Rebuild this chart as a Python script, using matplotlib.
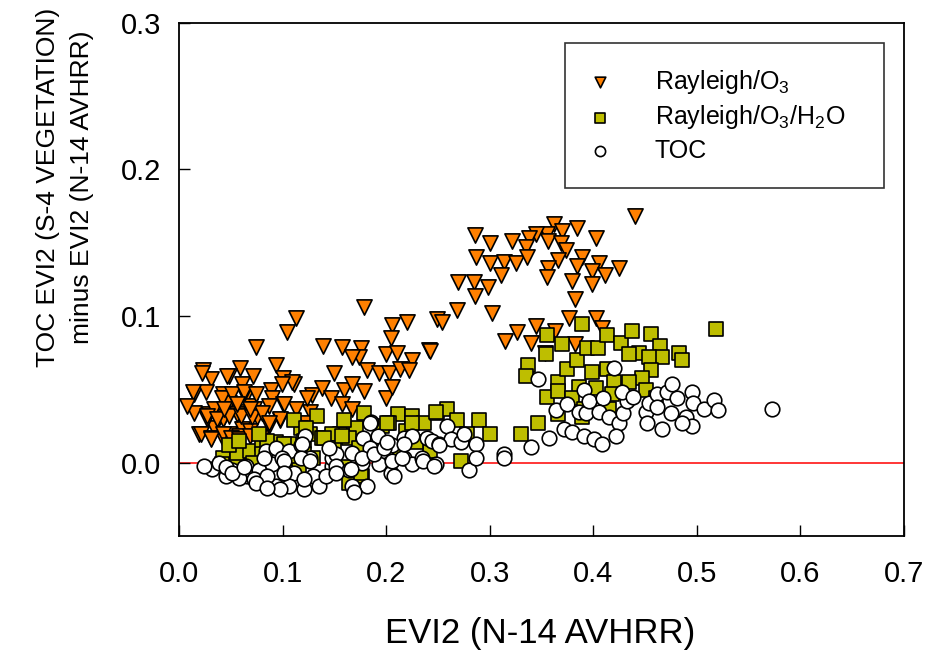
import matplotlib
matplotlib.use("Agg")
import matplotlib.pyplot as plt

plt.rcParams['font.family'] = ['Liberation Sans', 'DejaVu Sans']
plt.rcParams['mathtext.default'] = 'regular'

# Rayleigh/O3 corrected minus AVHRR
ray_x = [0.179, 0.113, 0.104, 0.206, 0.220, 0.249, 0.074, 0.139, 0.157, 0.176,
         0.174, 0.167, 0.241, 0.205, 0.200, 0.210, 0.225, 0.023, 0.059, 0.094,
         0.031, 0.048, 0.071, 0.100, 0.111, 0.150, 0.181, 0.193, 0.203, 0.213,
         0.222, 0.014, 0.026, 0.042, 0.061, 0.066, 0.089, 0.090, 0.128, 0.138,
         0.147, 0.159, 0.167, 0.179, 0.200, 0.206, 0.100, 0.113, 0.126, 0.157,
         0.167, 0.014, 0.029, 0.043, 0.056, 0.068, 0.075, 0.087, 0.097, 0.019,
         0.034, 0.048, 0.061, 0.077, 0.123, 0.022, 0.013, 0.042, 0.034, 0.048,
         0.063, 0.027, 0.042, 0.056, 0.072, 0.087, 0.097, 0.021, 0.031, 0.043,
         0.058, 0.068, 0.079, 0.008,
         0.046, 0.041, 0.051, 0.063, 0.074, 0.101, 0.109, 0.099, 0.027, 0.037,
         0.048, 0.060, 0.070, 0.080, 0.087, 0.031, 0.042, 0.050, 0.058, 0.068,
         0.056, 0.043, 0.068, 0.124,
         0.440, 0.362, 0.384, 0.370, 0.355, 0.345, 0.338, 0.286, 0.300, 0.322,
         0.335, 0.356, 0.369, 0.374, 0.403, 0.287, 0.300, 0.314, 0.325, 0.336,
         0.366, 0.389, 0.406, 0.425, 0.311, 0.356, 0.355, 0.384, 0.399, 0.411,
         0.399, 0.269, 0.285, 0.298, 0.286, 0.379, 0.382, 0.268, 0.302, 0.254,
         0.242, 0.326, 0.315, 0.340, 0.345, 0.363, 0.377, 0.403, 0.408, 0.382,
         0.353]
ray_y = [0.106, 0.099, 0.089, 0.094, 0.096, 0.098, 0.079, 0.080, 0.079, 0.078,
         0.072, 0.072, 0.077, 0.085, 0.074, 0.075, 0.070, 0.063, 0.065, 0.067,
         0.057, 0.059, 0.059, 0.058, 0.054, 0.061, 0.063, 0.061, 0.061, 0.064,
         0.063, 0.047, 0.048, 0.047, 0.054, 0.047, 0.050, 0.044, 0.046, 0.051,
         0.044, 0.050, 0.054, 0.049, 0.044, 0.052, 0.040, 0.037, 0.035, 0.040,
         0.037, 0.034, 0.033, 0.031, 0.035, 0.039, 0.031, 0.025, 0.029, 0.020,
         0.024, 0.020, 0.023, 0.018, 0.027, 0.061, 0.048, 0.044, 0.037, 0.041,
         0.047, 0.030, 0.030, 0.033, 0.037, 0.039, 0.030, 0.020, 0.017, 0.015,
         0.018, 0.022, 0.017, 0.039,
         0.059, 0.044, 0.047, 0.048, 0.047, 0.040, 0.055, 0.054, 0.032, 0.030,
         0.032, 0.032, 0.031, 0.034, 0.027, 0.016, 0.020, 0.017, 0.016, 0.018,
         0.040, 0.037, 0.037, 0.044,
         0.168, 0.163, 0.160, 0.158, 0.156, 0.156, 0.153, 0.155, 0.150, 0.151,
         0.147, 0.151, 0.150, 0.145, 0.153, 0.140, 0.136, 0.137, 0.136, 0.140,
         0.138, 0.140, 0.136, 0.133, 0.128, 0.133, 0.127, 0.134, 0.131, 0.128,
         0.122, 0.123, 0.123, 0.120, 0.114, 0.124, 0.112, 0.104, 0.102, 0.096,
         0.076, 0.089, 0.083, 0.082, 0.093, 0.090, 0.099, 0.099, 0.092, 0.081,
         0.075]

# Rayleigh/O3/H2O corrected minus AVHRR
wv_x = [0.519, 0.389, 0.355, 0.370, 0.354, 0.337, 0.335, 0.355, 0.366, 0.366,
        0.375, 0.384, 0.394, 0.405, 0.413, 0.427, 0.437, 0.456, 0.464, 0.466,
        0.483, 0.486, 0.444, 0.435, 0.454, 0.456, 0.447, 0.435, 0.399, 0.413,
        0.420, 0.403, 0.386, 0.379, 0.391, 0.389, 0.415, 0.366, 0.347, 0.330,
        0.451, 0.461, 0.418,
        0.179, 0.211, 0.203, 0.196, 0.225, 0.237, 0.249, 0.259, 0.268, 0.290,
        0.300, 0.278, 0.272, 0.219, 0.155, 0.171, 0.164, 0.174, 0.159, 0.164,
        0.177, 0.242, 0.229,
        0.042, 0.056, 0.068, 0.080, 0.094, 0.106, 0.118, 0.126, 0.138, 0.148,
        0.150, 0.080, 0.106, 0.129, 0.071, 0.055, 0.041, 0.116, 0.048, 0.085,
        0.133, 0.159, 0.111, 0.077, 0.058,
        0.101, 0.121, 0.248, 0.225, 0.201, 0.157, 0.140, 0.176, 0.193, 0.213,
        0.123, 0.121]
wv_y = [0.091, 0.095, 0.087, 0.081, 0.074, 0.067, 0.059, 0.045, 0.055, 0.049,
        0.064, 0.070, 0.078, 0.078, 0.087, 0.082, 0.090, 0.088, 0.080, 0.072,
        0.075, 0.070, 0.075, 0.074, 0.072, 0.063, 0.058, 0.055, 0.062, 0.064,
        0.055, 0.051, 0.052, 0.044, 0.037, 0.031, 0.037, 0.033, 0.027, 0.020,
        0.050, 0.044, 0.047,
        0.034, 0.033, 0.027, 0.025, 0.032, 0.027, 0.034, 0.037, 0.029, 0.029,
        0.020, 0.020, 0.001, 0.022, 0.020, 0.024, 0.017, 0.010, -0.003, -0.014,
        -0.009, 0.008, 0.014,
        0.003, 0.006, 0.008, 0.013, 0.014, 0.013, 0.024, 0.020, 0.017, 0.020,
        0.010, 0.006, 0.003, 0.003, 0.000, -0.003, -0.001, -0.005, 0.012, 0.015,
        0.032, 0.029, 0.029, 0.020, 0.015,
        0.013, 0.015, 0.035, 0.027, 0.027, 0.018, 0.017, -0.007, 0.010, 0.010,
        0.024, 0.006]

# TOC minus AVHRR
toc_x = [0.573, 0.420, 0.347, 0.391, 0.364, 0.375, 0.386, 0.393, 0.396, 0.409,
         0.406, 0.415, 0.425, 0.429, 0.433, 0.428, 0.438, 0.451, 0.454, 0.462,
         0.462, 0.452, 0.466, 0.471, 0.476, 0.481, 0.475, 0.490, 0.495, 0.486,
         0.495, 0.496, 0.507, 0.517, 0.520, 0.372, 0.379, 0.391, 0.401, 0.408,
         0.422, 0.357, 0.340, 0.314, 0.314,
         0.122, 0.084, 0.094, 0.106, 0.118, 0.126, 0.148, 0.051, 0.065, 0.066,
         0.077, 0.090, 0.099, 0.103, 0.111, 0.129, 0.135, 0.121, 0.106, 0.094,
         0.080, 0.072, 0.085, 0.058, 0.045, 0.142, 0.148, 0.097,
         0.185, 0.178, 0.192, 0.206, 0.217, 0.225, 0.239, 0.244, 0.259, 0.251,
         0.263, 0.272, 0.275, 0.287, 0.280, 0.287, 0.196, 0.184, 0.167, 0.152,
         0.152, 0.164, 0.177, 0.193, 0.205, 0.208, 0.217, 0.225, 0.235, 0.248,
         0.167, 0.181, 0.169, 0.032, 0.024, 0.039,
         0.045, 0.051, 0.063, 0.082, 0.101, 0.119, 0.118, 0.101, 0.121, 0.074,
         0.085, 0.184, 0.145, 0.126, 0.152, 0.166, 0.177, 0.188, 0.198, 0.206,
         0.215, 0.217, 0.236, 0.246, 0.251, 0.201]
toc_y = [0.037, 0.065, 0.057, 0.050, 0.036, 0.040, 0.035, 0.034, 0.042, 0.044,
         0.035, 0.031, 0.027, 0.034, 0.042, 0.048, 0.045, 0.035, 0.041, 0.047,
         0.038, 0.027, 0.023, 0.048, 0.054, 0.044, 0.034, 0.031, 0.025, 0.027,
         0.048, 0.041, 0.037, 0.043, 0.036, 0.023, 0.021, 0.018, 0.016, 0.013,
         0.018, 0.017, 0.011, 0.006, 0.003,
         0.018, 0.008, 0.010, 0.008, 0.012, 0.003, -0.002, -0.005, -0.002, -0.009,
         -0.005, -0.001, 0.003, -0.005, -0.007, -0.009, -0.016, -0.018, -0.016, -0.016,
         -0.014, -0.011, -0.009, -0.010, -0.009, -0.009, 0.003, -0.018,
         0.028, 0.017, 0.018, 0.012, 0.017, 0.018, 0.017, 0.015, 0.025, 0.013,
         0.016, 0.014, 0.020, 0.013, -0.005, 0.003, 0.008, 0.010, 0.007, 0.006,
         -0.002, -0.005, 0.000, -0.001, -0.007, -0.009, 0.003, -0.001, 0.003, -0.001,
         -0.016, -0.016, -0.020, -0.004, -0.002, 0.000,
         -0.003, -0.007, -0.003, 0.003, 0.001, 0.013, 0.003, -0.007, -0.011, -0.014,
         -0.017, 0.027, 0.010, 0.001, -0.007, -0.004, 0.003, 0.006, 0.010, 0.001,
         0.003, 0.013, 0.001, -0.002, 0.012, 0.014]

fig = plt.figure(figsize=(9.28, 6.5), dpi=100)
ax = fig.add_axes([0.193, 0.175, 0.781, 0.790])

ax.axhline(0, color='red', lw=1.1, zorder=1)
ax.scatter(ray_x, ray_y, marker='v', s=120, c='#FF8000', edgecolors='black',
           linewidths=1.2, zorder=2, label='Rayleigh/O$_3$')
ax.scatter(wv_x, wv_y, marker='s', s=95, c='#BEBE00', edgecolors='black',
           linewidths=1.2, zorder=3, label='Rayleigh/O$_3$/H$_2$O')
ax.scatter(toc_x, toc_y, marker='o', s=110, c='white', edgecolors='black',
           linewidths=1.2, zorder=4, label='TOC')

ax.set_xlim(0, 0.7)
ax.set_ylim(-0.05, 0.3)
ax.set_xticks([0, 0.1, 0.2, 0.3, 0.4, 0.5, 0.6, 0.7])
ax.set_yticks([0.0, 0.1, 0.2, 0.3])
ax.xaxis.set_major_formatter(plt.FormatStrFormatter('%.1f'))
ax.yaxis.set_major_formatter(plt.FormatStrFormatter('%.1f'))
ax.tick_params(direction='in', length=8, width=1, labelsize=21)
ax.tick_params(axis='x', pad=17)
ax.tick_params(axis='y', pad=13)
for sp in ax.spines.values():
    sp.set_linewidth(1.3)

ax.set_xlabel('EVI2 (N-14 AVHRR)', fontsize=25)
ax.xaxis.set_label_coords(0.498, -0.158)
ax.set_ylabel('TOC EVI2 (S-4 VEGETATION)\nminus EVI2 (N-14 AVHRR)', fontsize=19,
              linespacing=1.5)
ax.yaxis.set_label_coords(-0.118, 0.68)

leg = ax.legend(loc='upper left', bbox_to_anchor=(0.532, 0.0, 0.440, 0.961),
                mode='expand', fontsize=18, frameon=True, fancybox=False,
                edgecolor='black', markerscale=0.7, borderpad=1.0,
                labelspacing=0.3, handletextpad=1.8, borderaxespad=0,
                handlelength=0.8)
leg.get_frame().set_linewidth(1.2)

fig.savefig('out.png', dpi=100)
